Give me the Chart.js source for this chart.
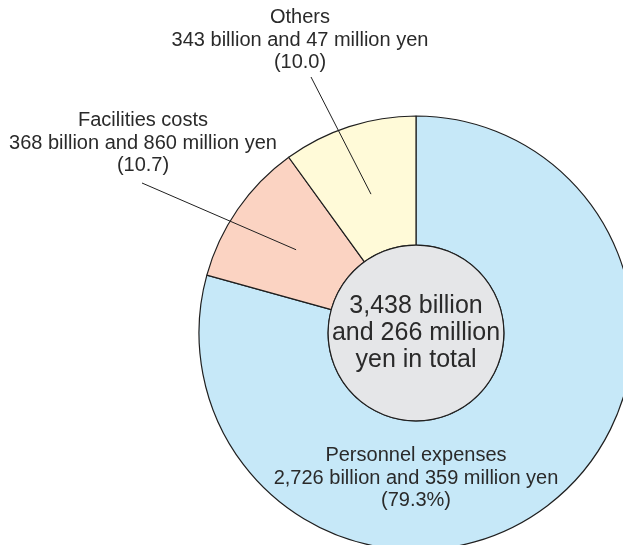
<!DOCTYPE html>
<html>
<head>
<meta charset="utf-8">
<script src="https://cdn.jsdelivr.net/npm/chart.js@4/dist/chart.umd.min.js"></script>
<style>
  html, body { margin: 0; padding: 0; background: #fff; overflow: hidden; }
  #wrap { position: relative; width: 623px; height: 545px; }
</style>
</head>
<body>
<div id="wrap"><canvas id="cost"></canvas></div>
<script>
// expenditure breakdown, values in million yen
const categories = ['Personnel expenses', 'Facilities costs', 'Others'];
const valuesMillionYen = [2726359, 368860, 343047];
const sliceColors = ['#c6e8f8', '#fbd3c2', '#fffad8'];

const FONT = "'Liberation Sans', Arial, Helvetica, sans-serif";
const INK = '#2a2a2a';

// where each slice's caption sits (centre x, first baseline) and where its leader line leaves it
const captionPlacement = [
  { x: 416, y: 461, leader: null, pctSign: true },
  { x: 143, y: 126, leader: { dx: -1, dy: 57 }, pctSign: false },
  { x: 300, y: 23,  leader: { dx: 11, dy: 54 }, pctSign: false }
];

function yenText (m) {
  const billions = Math.floor(m / 1000);
  const millions = m % 1000;
  return billions.toLocaleString('en-US') + ' billion and ' + millions + ' million';
}

const total = valuesMillionYen.reduce((a, b) => a + b, 0);

const captionPlugin = {
  id: 'captions',
  afterDatasetsDraw (chart) {
    const ctx = chart.ctx;
    const arcs = chart.getDatasetMeta(0).data;
    const cx = arcs[0].x, cy = arcs[0].y;
    const inner = arcs[0].innerRadius, outer = arcs[0].outerRadius;

    // grey hub in the hole
    ctx.save();
    ctx.beginPath();
    ctx.arc(cx, cy, inner, 0, Math.PI * 2);
    ctx.fillStyle = '#e5e6e8';
    ctx.fill();
    ctx.lineWidth = 1.2;
    ctx.strokeStyle = '#1f1f1f';
    ctx.stroke();

    ctx.fillStyle = INK;
    ctx.textAlign = 'center';
    ctx.textBaseline = 'alphabetic';
    ctx.font = '25px ' + FONT;
    const hub = yenText(total).split(' and ');
    const hubLines = [hub[0], 'and ' + hub[1], 'yen in total'];
    hubLines.forEach((t, i) => ctx.fillText(t, cx, 313 + i * 27));

    // slice captions and leader lines
    ctx.font = '20px ' + FONT;
    arcs.forEach((arc, i) => {
      const p = captionPlacement[i];
      const pct = (valuesMillionYen[i] / total * 100).toFixed(1);
      const lines = [
        categories[i],
        yenText(valuesMillionYen[i]) + ' yen',
        '(' + pct + (p.pctSign ? '%' : '') + ')'
      ];
      lines.forEach((t, j) => ctx.fillText(t, p.x, p.y + j * 22.5));

      if (p.leader) {
        const mid = (arc.startAngle + arc.endAngle) / 2;
        const r = inner + (outer - inner) * 0.45;
        ctx.beginPath();
        ctx.moveTo(p.x + p.leader.dx, p.y + p.leader.dy);
        ctx.lineTo(cx + Math.cos(mid) * r, cy + Math.sin(mid) * r);
        ctx.lineWidth = 1;
        ctx.strokeStyle = '#1f1f1f';
        ctx.stroke();
      }
    });
    ctx.restore();
  }
};

new Chart(document.getElementById('cost'), {
  type: 'doughnut',
  data: {
    labels: categories,
    datasets: [{
      data: valuesMillionYen,
      backgroundColor: sliceColors,
      borderColor: '#1f1f1f',
      borderWidth: 1.2,
      radius: 217,
      cutout: '40.5%',
      clip: false
    }]
  },
  options: {
    responsive: true,
    maintainAspectRatio: false,
    animation: false,
    events: [],
    layout: { padding: { left: 209, right: 0, top: 121, bottom: 0 } },
    plugins: {
      legend: { display: false },
      tooltip: { enabled: false }
    }
  },
  plugins: [captionPlugin]
});
</script>
</body>
</html>
